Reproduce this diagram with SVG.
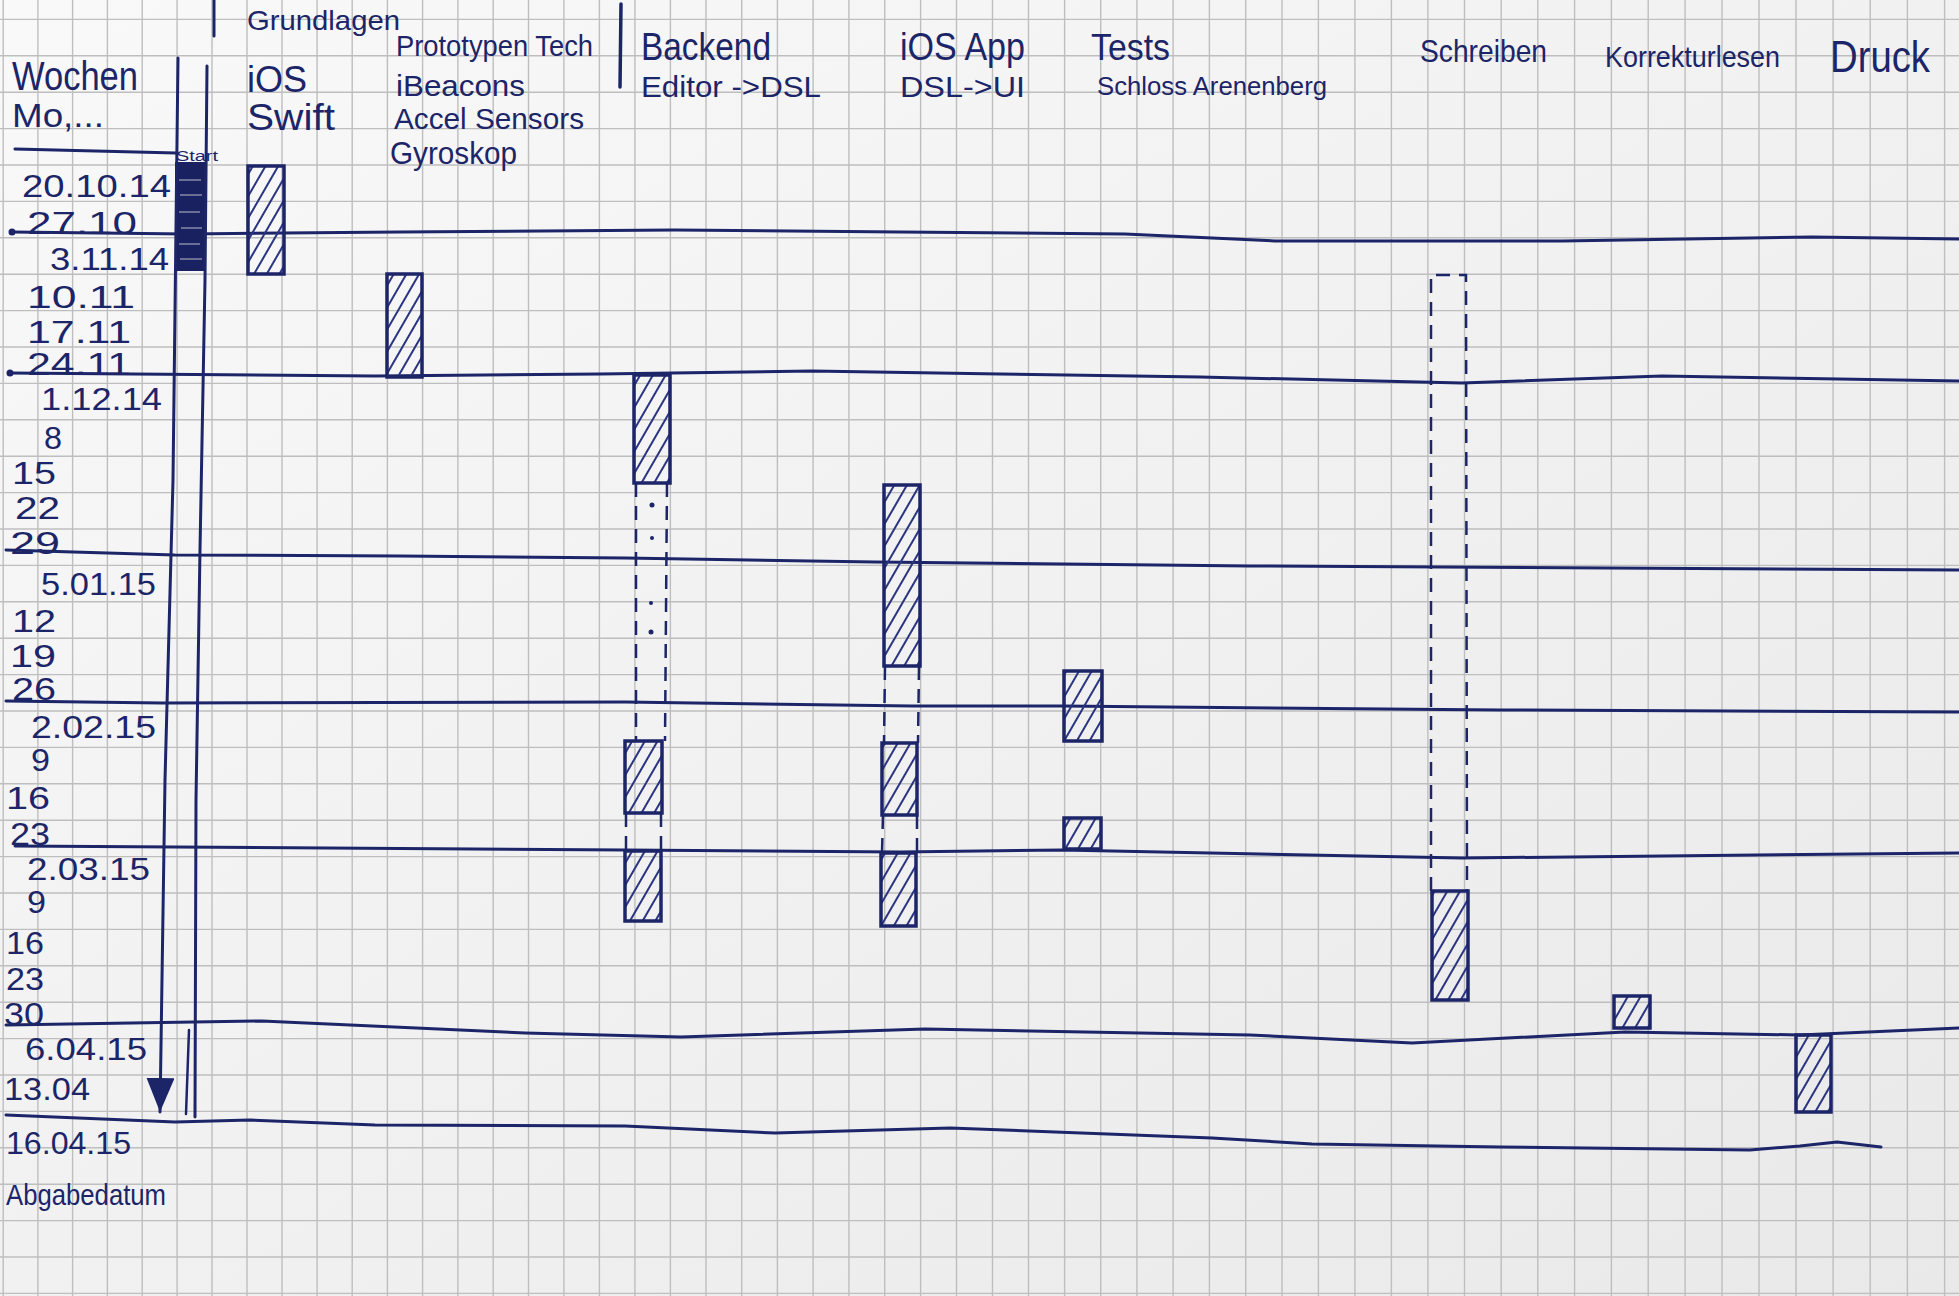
<svg xmlns="http://www.w3.org/2000/svg" width="1959" height="1296" viewBox="0 0 1959 1296">
  <defs>
    <linearGradient id="paper" x1="0" y1="0" x2="1" y2="1">
      <stop offset="0" stop-color="#f9f9f9"/>
      <stop offset="1" stop-color="#e9e9e9"/>
    </linearGradient>
    <pattern id="hatch" patternUnits="userSpaceOnUse" width="11" height="11" patternTransform="rotate(30)">
      <line x1="5" y1="0" x2="5" y2="11" stroke="#2a3480" stroke-width="2"/>
    </pattern>
    <marker id="arrow" markerUnits="userSpaceOnUse" markerWidth="36" markerHeight="30" refX="34" refY="14" orient="auto">
      <path d="M0,0 L34,14 L0,28 Z" fill="#1c2568"/>
    </marker>
    <style>
      .grid line { stroke: #bebebe; stroke-width: 1.4; }
      .ink { stroke: #1c2568; fill: none; stroke-linecap: round; stroke-linejoin: round; }
      .month { stroke: #1c2568; stroke-width: 3; fill: none; stroke-linejoin: round; stroke-linecap: round; }
      .bar { fill: url(#hatch); stroke: #1c2568; stroke-width: 3.5; }
      .dash { stroke: #1c2568; stroke-width: 2.5; stroke-dasharray: 14 9; fill: none; }
      text { font-family: "Liberation Sans", "DejaVu Sans", sans-serif; fill: #1c2568; }
      .dt { font-size: 31px; }
    </style>
  </defs>

  <!-- paper -->
  <rect width="1959" height="1296" fill="url(#paper)"/>

  <!-- squared grid -->
  <g class="grid">
    <line x1="3.2" y1="0" x2="3.2" y2="1296"/>
    <line x1="37.9" y1="0" x2="37.9" y2="1296"/>
    <line x1="72.6" y1="0" x2="72.6" y2="1296"/>
    <line x1="107.4" y1="0" x2="107.4" y2="1296"/>
    <line x1="142.2" y1="0" x2="142.2" y2="1296"/>
    <line x1="177.1" y1="0" x2="177.1" y2="1296"/>
    <line x1="212" y1="0" x2="212" y2="1296"/>
    <line x1="247" y1="0" x2="247" y2="1296"/>
    <line x1="282" y1="0" x2="282" y2="1296"/>
    <line x1="317.1" y1="0" x2="317.1" y2="1296"/>
    <line x1="352.2" y1="0" x2="352.2" y2="1296"/>
    <line x1="387.4" y1="0" x2="387.4" y2="1296"/>
    <line x1="422.6" y1="0" x2="422.6" y2="1296"/>
    <line x1="457.9" y1="0" x2="457.9" y2="1296"/>
    <line x1="493.2" y1="0" x2="493.2" y2="1296"/>
    <line x1="528.5" y1="0" x2="528.5" y2="1296"/>
    <line x1="563.9" y1="0" x2="563.9" y2="1296"/>
    <line x1="599.4" y1="0" x2="599.4" y2="1296"/>
    <line x1="634.9" y1="0" x2="634.9" y2="1296"/>
    <line x1="670.4" y1="0" x2="670.4" y2="1296"/>
    <line x1="706" y1="0" x2="706" y2="1296"/>
    <line x1="741.7" y1="0" x2="741.7" y2="1296"/>
    <line x1="777.4" y1="0" x2="777.4" y2="1296"/>
    <line x1="813.1" y1="0" x2="813.1" y2="1296"/>
    <line x1="848.9" y1="0" x2="848.9" y2="1296"/>
    <line x1="884.7" y1="0" x2="884.7" y2="1296"/>
    <line x1="920.6" y1="0" x2="920.6" y2="1296"/>
    <line x1="956.5" y1="0" x2="956.5" y2="1296"/>
    <line x1="992.5" y1="0" x2="992.5" y2="1296"/>
    <line x1="1028.5" y1="0" x2="1028.5" y2="1296"/>
    <line x1="1064.6" y1="0" x2="1064.6" y2="1296"/>
    <line x1="1100.7" y1="0" x2="1100.7" y2="1296"/>
    <line x1="1136.9" y1="0" x2="1136.9" y2="1296"/>
    <line x1="1173.1" y1="0" x2="1173.1" y2="1296"/>
    <line x1="1209.4" y1="0" x2="1209.4" y2="1296"/>
    <line x1="1245.7" y1="0" x2="1245.7" y2="1296"/>
    <line x1="1282" y1="0" x2="1282" y2="1296"/>
    <line x1="1318.4" y1="0" x2="1318.4" y2="1296"/>
    <line x1="1354.9" y1="0" x2="1354.9" y2="1296"/>
    <line x1="1391.4" y1="0" x2="1391.4" y2="1296"/>
    <line x1="1427.9" y1="0" x2="1427.9" y2="1296"/>
    <line x1="1464.5" y1="0" x2="1464.5" y2="1296"/>
    <line x1="1501.2" y1="0" x2="1501.2" y2="1296"/>
    <line x1="1537.8" y1="0" x2="1537.8" y2="1296"/>
    <line x1="1574.6" y1="0" x2="1574.6" y2="1296"/>
    <line x1="1611.4" y1="0" x2="1611.4" y2="1296"/>
    <line x1="1648.2" y1="0" x2="1648.2" y2="1296"/>
    <line x1="1685.1" y1="0" x2="1685.1" y2="1296"/>
    <line x1="1722" y1="0" x2="1722" y2="1296"/>
    <line x1="1759" y1="0" x2="1759" y2="1296"/>
    <line x1="1796" y1="0" x2="1796" y2="1296"/>
    <line x1="1833.1" y1="0" x2="1833.1" y2="1296"/>
    <line x1="1870.2" y1="0" x2="1870.2" y2="1296"/>
    <line x1="1907.4" y1="0" x2="1907.4" y2="1296"/>
    <line x1="1944.6" y1="0" x2="1944.6" y2="1296"/>
    <line x1="0" y1="19.4" x2="1959" y2="19.4"/>
    <line x1="0" y1="55.8" x2="1959" y2="55.8"/>
    <line x1="0" y1="92.2" x2="1959" y2="92.2"/>
    <line x1="0" y1="128.6" x2="1959" y2="128.6"/>
    <line x1="0" y1="165" x2="1959" y2="165"/>
    <line x1="0" y1="201.4" x2="1959" y2="201.4"/>
    <line x1="0" y1="237.8" x2="1959" y2="237.8"/>
    <line x1="0" y1="274.2" x2="1959" y2="274.2"/>
    <line x1="0" y1="310.6" x2="1959" y2="310.6"/>
    <line x1="0" y1="347" x2="1959" y2="347"/>
    <line x1="0" y1="383.4" x2="1959" y2="383.4"/>
    <line x1="0" y1="419.8" x2="1959" y2="419.8"/>
    <line x1="0" y1="456.2" x2="1959" y2="456.2"/>
    <line x1="0" y1="492.6" x2="1959" y2="492.6"/>
    <line x1="0" y1="529" x2="1959" y2="529"/>
    <line x1="0" y1="565.4" x2="1959" y2="565.4"/>
    <line x1="0" y1="601.8" x2="1959" y2="601.8"/>
    <line x1="0" y1="638.2" x2="1959" y2="638.2"/>
    <line x1="0" y1="674.6" x2="1959" y2="674.6"/>
    <line x1="0" y1="711" x2="1959" y2="711"/>
    <line x1="0" y1="747.4" x2="1959" y2="747.4"/>
    <line x1="0" y1="783.8" x2="1959" y2="783.8"/>
    <line x1="0" y1="820.2" x2="1959" y2="820.2"/>
    <line x1="0" y1="856.6" x2="1959" y2="856.6"/>
    <line x1="0" y1="893" x2="1959" y2="893"/>
    <line x1="0" y1="929.4" x2="1959" y2="929.4"/>
    <line x1="0" y1="965.8" x2="1959" y2="965.8"/>
    <line x1="0" y1="1002.2" x2="1959" y2="1002.2"/>
    <line x1="0" y1="1038.6" x2="1959" y2="1038.6"/>
    <line x1="0" y1="1075" x2="1959" y2="1075"/>
    <line x1="0" y1="1111.4" x2="1959" y2="1111.4"/>
    <line x1="0" y1="1147.8" x2="1959" y2="1147.8"/>
    <line x1="0" y1="1184.2" x2="1959" y2="1184.2"/>
    <line x1="0" y1="1220.6" x2="1959" y2="1220.6"/>
    <line x1="0" y1="1257" x2="1959" y2="1257"/>
    <line x1="0" y1="1293.4" x2="1959" y2="1293.4"/>
  </g>

  <!-- month separators -->
  <g id="month-lines">
    <circle cx="12" cy="232" r="3.5" fill="#1c2568"/>
    <polyline class="month" points="12,232 187,234 400,232 675,230 900,232 1125,234 1275,241 1562,241 1812,237 1959,239"/>
    <circle cx="10" cy="373" r="3.5" fill="#1c2568"/>
    <polyline class="month" points="10,373 375,376 600,374 812,371 1000,374 1200,377 1462,383 1662,376 1959,381"/>
    <polyline class="month" points="6,550 175,555 400,556 625,558 875,562 1250,566 1959,570"/>
    <polyline class="month" points="6,701 162,703 625,702 912,706 1062,706 1500,710 1959,712"/>
    <polyline class="month" points="15,846 175,847 625,850 900,852 1062,850 1462,858 1959,853"/>
    <polyline class="month" points="6,1025 262,1021 525,1033 681,1037 925,1029 1250,1035 1412,1043 1625,1032 1800,1035 1959,1028"/>
    <polyline class="month" points="6,1115 175,1122 250,1120 375,1125 625,1126 775,1133 950,1128 1212,1138 1312,1144 1500,1147 1750,1150 1800,1146 1837,1142 1881,1147"/>
    <line class="ink" stroke-width="3" x1="15" y1="149" x2="176" y2="153"/>
  </g>

  <!-- header separators -->
  <g id="separators">
    <line class="ink" stroke-width="3" x1="214" y1="0" x2="214" y2="36"/>
    <line class="ink" stroke-width="3.5" x1="621" y1="4" x2="620" y2="87"/>
  </g>

  <!-- week column titles -->
  <g id="week-header">
    <text x="12" y="90" font-size="40" textLength="126" lengthAdjust="spacingAndGlyphs">Wochen</text>
    <text x="12" y="127" font-size="34" textLength="92" lengthAdjust="spacingAndGlyphs">Mo,...</text>
  </g>

  <!-- week dates -->
  <g id="week-dates" class="dt">
    <text x="22" y="197" textLength="149" lengthAdjust="spacingAndGlyphs">20.10.14</text>
    <text x="27" y="234" textLength="110" lengthAdjust="spacingAndGlyphs">27.10</text>
    <text x="50" y="270" textLength="119" lengthAdjust="spacingAndGlyphs">3.11.14</text>
    <text x="27" y="308" textLength="108" lengthAdjust="spacingAndGlyphs">10.11</text>
    <text x="27" y="343" textLength="104" lengthAdjust="spacingAndGlyphs">17.11</text>
    <text x="27" y="375" textLength="104" lengthAdjust="spacingAndGlyphs">24.11</text>
    <text x="41" y="410" textLength="121" lengthAdjust="spacingAndGlyphs">1.12.14</text>
    <text x="44" y="449" textLength="18" lengthAdjust="spacingAndGlyphs">8</text>
    <text x="12" y="484" textLength="44" lengthAdjust="spacingAndGlyphs">15</text>
    <text x="15" y="519" textLength="45" lengthAdjust="spacingAndGlyphs">22</text>
    <text x="10" y="554" textLength="50" lengthAdjust="spacingAndGlyphs">29</text>
    <text x="41" y="595" textLength="115" lengthAdjust="spacingAndGlyphs">5.01.15</text>
    <text x="12" y="632" textLength="44" lengthAdjust="spacingAndGlyphs">12</text>
    <text x="10" y="667" textLength="46" lengthAdjust="spacingAndGlyphs">19</text>
    <text x="12" y="700" textLength="44" lengthAdjust="spacingAndGlyphs">26</text>
    <text x="31" y="738" textLength="125" lengthAdjust="spacingAndGlyphs">2.02.15</text>
    <text x="31" y="771" textLength="19" lengthAdjust="spacingAndGlyphs">9</text>
    <text x="6" y="809" textLength="44" lengthAdjust="spacingAndGlyphs">16</text>
    <text x="10" y="845" textLength="40" lengthAdjust="spacingAndGlyphs">23</text>
    <text x="27" y="880" textLength="123" lengthAdjust="spacingAndGlyphs">2.03.15</text>
    <text x="27" y="913" textLength="19" lengthAdjust="spacingAndGlyphs">9</text>
    <text x="6" y="954" textLength="38" lengthAdjust="spacingAndGlyphs">16</text>
    <text x="6" y="990" textLength="38" lengthAdjust="spacingAndGlyphs">23</text>
    <text x="4" y="1025" textLength="40" lengthAdjust="spacingAndGlyphs">30</text>
    <text x="25" y="1060" textLength="122" lengthAdjust="spacingAndGlyphs">6.04.15</text>
    <text x="4" y="1100" textLength="86" lengthAdjust="spacingAndGlyphs">13.04</text>
    <text x="6" y="1154" textLength="125" lengthAdjust="spacingAndGlyphs">16.04.15</text>
    <text x="6" y="1205" font-size="30" textLength="160" lengthAdjust="spacingAndGlyphs">Abgabedatum</text>
  </g>

  <!-- timeline: start block and arrow down to the deadline -->
  <g id="timeline">
    <rect x="175" y="162" width="31" height="109" fill="#1a2160"/>
    <g stroke="#f2f2f2" stroke-width="1.5" opacity="0.5">
      <line x1="179" y1="180" x2="201" y2="180"/>
      <line x1="180" y1="195" x2="202" y2="195"/>
      <line x1="179" y1="212" x2="200" y2="212"/>
      <line x1="181" y1="228" x2="202" y2="228"/>
      <line x1="179" y1="244" x2="200" y2="244"/>
      <line x1="180" y1="259" x2="202" y2="259"/>
    </g>
    <text x="176" y="161" font-size="14" textLength="42" lengthAdjust="spacingAndGlyphs">Start</text>
  </g>

  <!-- connectors -->
  <g id="connectors">
    <path class="ink" stroke-width="3" d="M178,58 L173,480 L165,780 L160,1112" marker-end="url(#arrow)"/>
    <path class="ink" stroke-width="3" d="M207,66 L205,280 L200,550 L196,800 L195,1117"/>
    <path class="ink" stroke-width="2.5" d="M189,1030 L186,1114"/>
    <!-- Backend continuation -->
    <line class="dash" x1="636" y1="483" x2="636" y2="741"/>
    <line class="dash" x1="667" y1="483" x2="665" y2="741"/>
    <line class="dash" x1="626" y1="813" x2="626" y2="851"/>
    <line class="dash" x1="661" y1="813" x2="661" y2="851"/>
    <g fill="#1c2568">
      <circle cx="652" cy="505" r="2.5"/>
      <circle cx="652" cy="538" r="2"/>
      <circle cx="651" cy="603" r="2"/>
      <circle cx="651" cy="632" r="2.5"/>
    </g>
    <!-- iOS App continuation -->
    <line class="dash" x1="885" y1="666" x2="884" y2="743"/>
    <line class="dash" x1="919" y1="666" x2="918" y2="743"/>
    <line class="dash" x1="883" y1="815" x2="882" y2="853"/>
    <line class="dash" x1="917" y1="815" x2="917" y2="853"/>
    <!-- Schreiben planned span -->
    <path class="dash" d="M1431,891 L1431,275 L1466,275 L1467,891"/>
  </g>

  <!-- Grundlagen -->
  <g id="grundlagen">
    <text x="247" y="30" font-size="28" textLength="153" lengthAdjust="spacingAndGlyphs">Grundlagen</text>
    <text x="247" y="92" font-size="36" textLength="60" lengthAdjust="spacingAndGlyphs">iOS</text>
    <text x="247" y="130" font-size="36" textLength="88" lengthAdjust="spacingAndGlyphs">Swift</text>
    <rect class="bar" x="248" y="166" width="36" height="108"/>
  </g>

  <!-- Prototypen Tech -->
  <g id="prototypen">
    <text x="396" y="56" font-size="30" textLength="197" lengthAdjust="spacingAndGlyphs">Prototypen Tech</text>
    <text x="396" y="96" font-size="30" textLength="129" lengthAdjust="spacingAndGlyphs">iBeacons</text>
    <text x="394" y="129" font-size="30" textLength="190" lengthAdjust="spacingAndGlyphs">Accel Sensors</text>
    <text x="390" y="164" font-size="32" textLength="127" lengthAdjust="spacingAndGlyphs">Gyroskop</text>
    <rect class="bar" x="387" y="274" width="35" height="103"/>
  </g>

  <!-- Backend -->
  <g id="backend">
    <text x="641" y="60" font-size="38" textLength="130" lengthAdjust="spacingAndGlyphs">Backend</text>
    <text x="641" y="97" font-size="30" textLength="180" lengthAdjust="spacingAndGlyphs">Editor -&gt;DSL</text>
    <rect class="bar" x="634" y="375" width="36" height="108"/>
    <rect class="bar" x="625" y="741" width="37" height="72"/>
    <rect class="bar" x="625" y="851" width="36" height="70"/>
  </g>

  <!-- iOS App -->
  <g id="ios-app">
    <text x="900" y="60" font-size="38" textLength="125" lengthAdjust="spacingAndGlyphs">iOS App</text>
    <text x="900" y="97" font-size="30" textLength="125" lengthAdjust="spacingAndGlyphs">DSL-&gt;UI</text>
    <rect class="bar" x="884" y="485" width="36" height="181"/>
    <rect class="bar" x="882" y="743" width="35" height="72"/>
    <rect class="bar" x="881" y="853" width="35" height="73"/>
  </g>

  <!-- Tests -->
  <g id="tests">
    <text x="1091" y="60" font-size="36" textLength="79" lengthAdjust="spacingAndGlyphs">Tests</text>
    <text x="1097" y="95" font-size="26" textLength="230" lengthAdjust="spacingAndGlyphs">Schloss Arenenberg</text>
    <rect class="bar" x="1064" y="671" width="38" height="70"/>
    <rect class="bar" x="1064" y="818" width="37" height="31"/>
  </g>

  <!-- Schreiben -->
  <g id="schreiben">
    <text x="1420" y="62" font-size="32" textLength="127" lengthAdjust="spacingAndGlyphs">Schreiben</text>
    <rect class="bar" x="1432" y="891" width="36" height="109"/>
  </g>

  <!-- Korrekturlesen -->
  <g id="korrekturlesen">
    <text x="1605" y="67" font-size="30" textLength="175" lengthAdjust="spacingAndGlyphs">Korrekturlesen</text>
    <rect class="bar" x="1614" y="996" width="36" height="32"/>
  </g>

  <!-- Druck -->
  <g id="druck">
    <text x="1830" y="72" font-size="44" textLength="100" lengthAdjust="spacingAndGlyphs">Druck</text>
    <rect class="bar" x="1796" y="1035" width="35" height="77"/>
  </g>
</svg>
